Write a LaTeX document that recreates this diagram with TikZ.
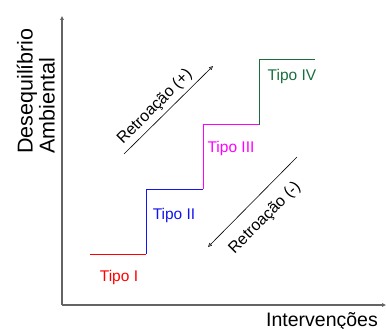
\documentclass[tikz,border=0pt]{standalone}
\usepackage{fontspec}
\setmainfont{Liberation Sans}
\usetikzlibrary{arrows.meta}
\definecolor{axisgray}{RGB}{100,100,100}
\definecolor{tgreen}{RGB}{25,110,60}
\definecolor{tblue}{RGB}{20,20,240}
\definecolor{tmag}{RGB}{255,0,255}
\begin{document}
\begin{tikzpicture}[x=1pt,y=-1pt,
  axis/.style={draw=axisgray,line width=1.2pt,-{Triangle[open,length=4pt,width=3.5pt]}},
  fb/.style={draw=black,line width=0.6pt,-{Triangle[open,length=4pt,width=3.5pt]}},
  stepline/.style={line width=1pt},
  tipo/.style={font=\fontsize{15.5}{18}\selectfont,anchor=base,inner sep=0pt},
  fblabel/.style={font=\fontsize{16}{18}\selectfont,rotate=45,inner sep=0pt},
  axlabel/.style={font=\fontsize{19.5}{22}\selectfont,inner sep=0pt}]
\useasboundingbox (0,0) rectangle (386,329);
% axes
\coordinate (O) at (62,305);
\coordinate (Ytop) at (62,16);
\coordinate (Xend) at (386,305);
\draw[axis] (O) -- (Ytop);
\draw[axis] (O) -- (Xend);
% steps
\coordinate (a1) at (90,254);
\coordinate (a2) at (146,254);
\coordinate (b1) at (146,189);
\coordinate (b2) at (203,189);
\coordinate (c1) at (203,125);
\coordinate (c2) at (259,125);
\coordinate (d1) at (259,60);
\coordinate (d2) at (315,60);
\draw[stepline,red] (a1) -- (a2);
\draw[stepline,tblue] (a2) -- (b1) -- (b2);
\draw[stepline,tmag] (b2) -- (c1) -- (c2);
\draw[stepline,tgreen] (c2) -- (d1) -- (d2);
% type labels
\node[tipo,red] (t1) at (119,281) {Tipo I};
\node[tipo,tblue] (t2) at (174,219) {Tipo II};
\node[tipo,tmag] (t3) at (231,152) {Tipo III};
\node[tipo,tgreen] (t4) at (292,81) {Tipo IV};
% feedback arrows
\coordinate (p1) at (124,154);
\coordinate (p2) at (213,66);
\draw[fb] (p1) -- (p2);
\node[fblabel] (lp) at (155,107) {Retroação (+)};
\coordinate (m1) at (297,157);
\coordinate (m2) at (208,247);
\draw[fb] (m1) -- (m2);
\node[fblabel] (lm) at (265,218) {Retroação (-)};
% axis labels
\node[axlabel,anchor=base east] (xl) at (378,326) {Intervenções};
\node[rotate=90,anchor=south west,align=left,inner sep=0pt,font=\fontsize{21.5}{22}\selectfont] (yl) at (55,154) {Desequilíbrio\\Ambiental};
\end{tikzpicture}
\end{document}
